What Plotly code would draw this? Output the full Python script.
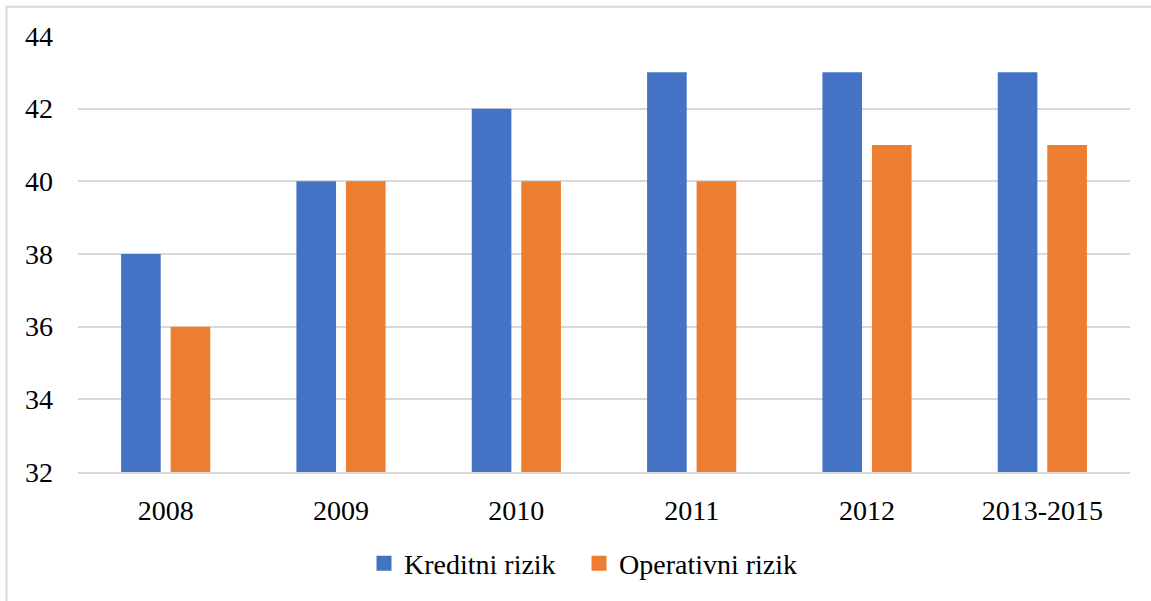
import plotly.graph_objects as go

categories = ["2008", "2009", "2010", "2011", "2012", "2013-2015"]
kreditni = [38, 40, 42, 43, 43, 43]
operativni = [36, 40, 40, 40, 41, 41]
y_ticks = [32, 34, 36, 38, 40, 42, 44]
series_names = ["Kreditni rizik", "Operativni rizik"]
series_colors = ["#4472C4", "#ED7D31"]

W, H = 1151, 601
ml, mr, mt, mb = 78, 21, 36, 127
pw, ph = W - ml - mr, H - mt - mb

fig = go.Figure()
for name, vals, col in zip(series_names, [kreditni, operativni], series_colors):
    fig.add_trace(go.Bar(name=name, x=categories, y=vals, showlegend=False,
                         marker=dict(color=col, line=dict(width=0))))
# legend entries with square swatches (one legend box per entry for exact spacing)
for name, col, lg in zip(series_names, series_colors, ["legend", "legend2"]):
    fig.add_trace(go.Scatter(name=name, x=[None], y=[None], mode="markers",
                             marker=dict(symbol="square", size=15, color=col),
                             showlegend=True, legend=lg))

font = dict(family="Liberation Serif, Times New Roman, serif", size=28, color="#000000")
leg_y = -(566 - 474) / ph

fig.update_layout(
    width=W, height=H,
    margin=dict(l=ml, r=mr, t=mt, b=mb),
    paper_bgcolor="white", plot_bgcolor="white",
    barmode="group", bargap=0.435, bargroupgap=0.2,
    font=font,
    showlegend=True,
    legend=dict(orientation="h", x=(364 - ml) / pw, xanchor="left",
                y=leg_y, yanchor="middle", font=font, itemwidth=30),
    legend2=dict(orientation="h", x=(579 - ml) / pw, xanchor="left",
                 y=leg_y, yanchor="middle", font=font, itemwidth=30),
    xaxis=dict(showgrid=False, showline=True, linecolor="#d9d9d9", linewidth=2,
               ticks="", tickfont=font, ticklabelstandoff=12),
    yaxis=dict(range=[32, 44], tickvals=y_ticks, showgrid=True, gridcolor="#d9d9d9",
               gridwidth=1.5, zeroline=False, showline=False, ticks="",
               tickfont=font, ticklabelstandoff=24),
)

fig.add_shape(type="rect", xref="paper", yref="paper",
              x0=(6.5 - ml) / pw, x1=1.2,
              y0=-0.5, y1=1 + (mt - 6.5) / ph,
              line=dict(color="#d9d9d9", width=2), fillcolor="rgba(0,0,0,0)", layer="below")

fig.write_html("out.html", config={"displayModeBar": False},
               post_script="document.body.style.margin='0';document.body.style.overflow='hidden';")
